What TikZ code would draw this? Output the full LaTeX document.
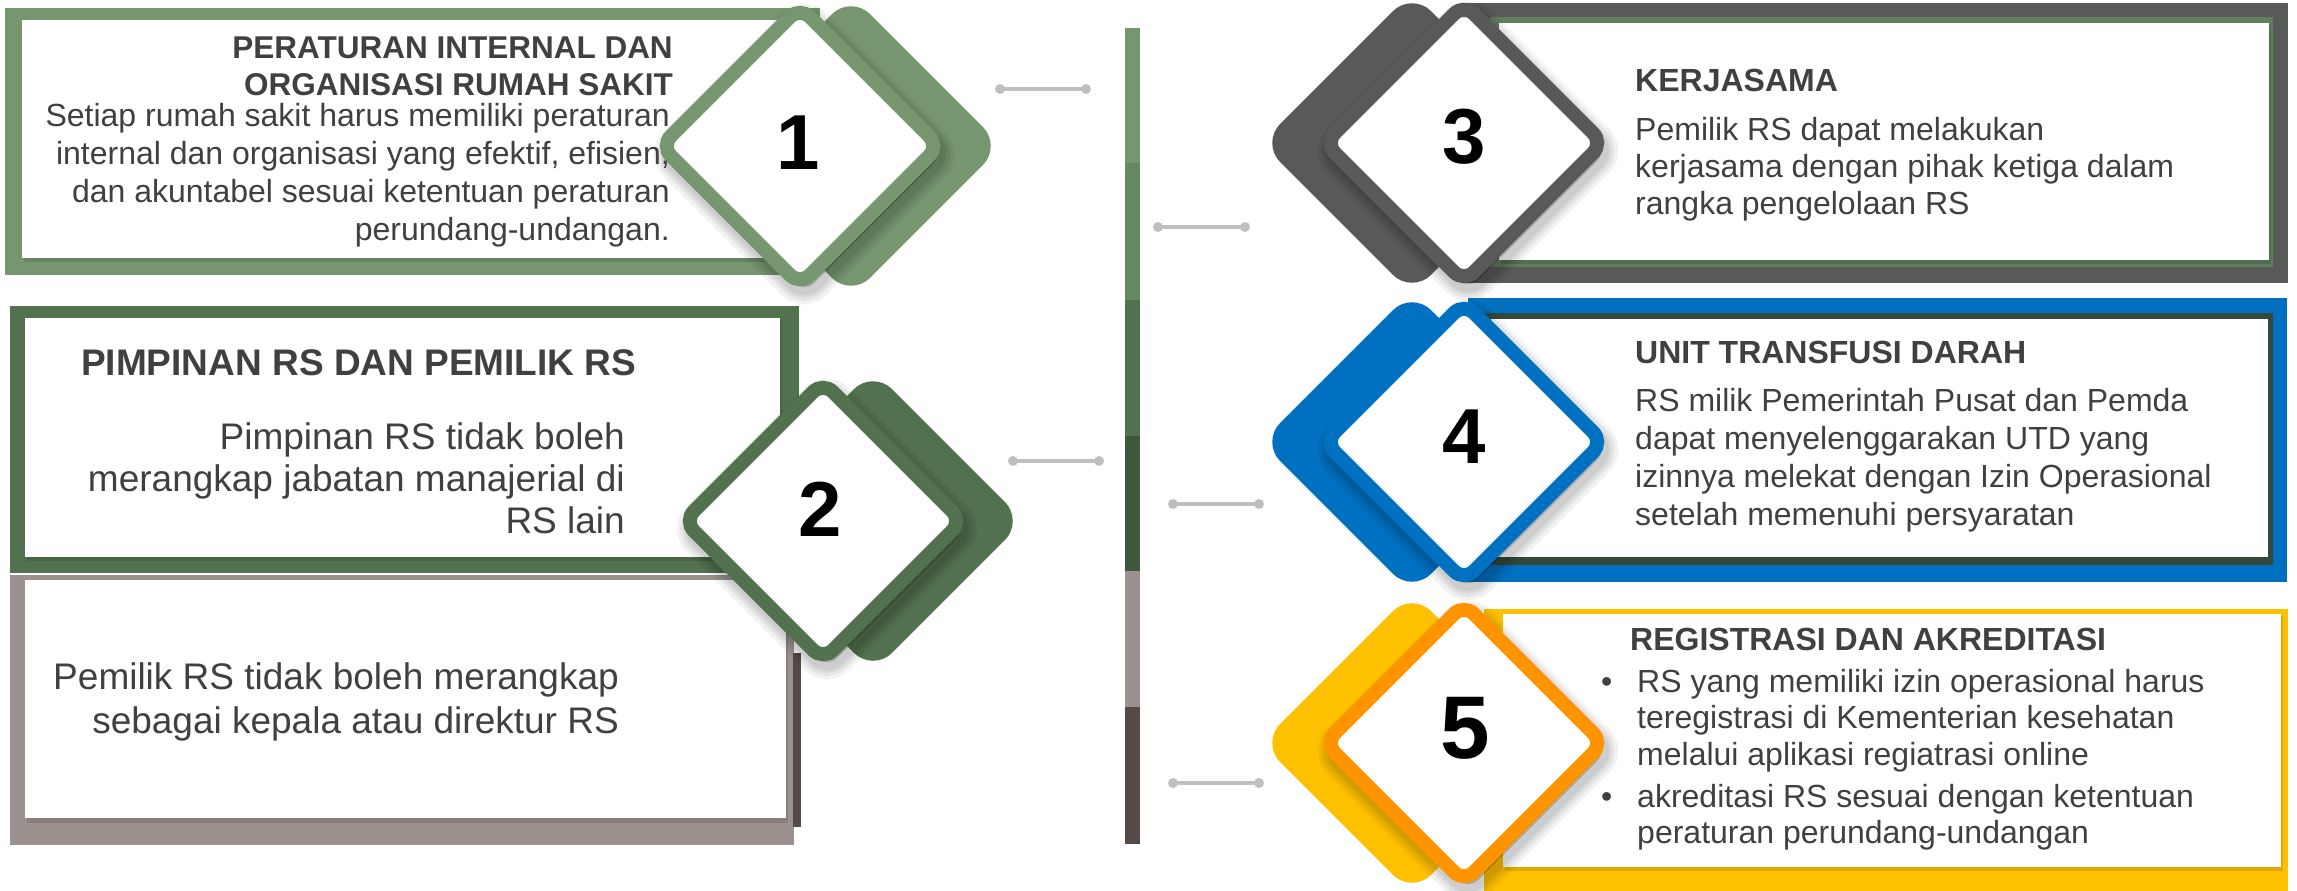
\documentclass[tikz,border=0pt]{standalone}
\usepackage{fontspec}
\setmainfont{Liberation Sans}
\definecolor{gA}{HTML}{76966F}
\definecolor{gB}{HTML}{52714F}
\definecolor{gC}{HTML}{658863}
\definecolor{gD}{HTML}{3E573D}
\definecolor{brL}{HTML}{9B9290}
\definecolor{brD}{HTML}{554A45}
\definecolor{grayD}{HTML}{595959}
\definecolor{frG}{HTML}{5E7E5C}
\definecolor{frD}{HTML}{35493A}
\definecolor{blueA}{HTML}{0070C0}
\definecolor{orA}{HTML}{FF9300}
\definecolor{yeA}{HTML}{FFC000}
\definecolor{txt}{HTML}{404040}
\definecolor{conn}{HTML}{BFBFBF}
\newcommand\rhombpath[2]{% #1 center coordinate name, #2 half diagonal
  ([shift={(-#2/2,-#2/2)}]#1) -- ([shift={(0,-#2)}]#1) -- ([shift={(#2,0)}]#1)
  -- ([shift={(0,#2)}]#1) -- ([shift={(-#2,0)}]#1) -- cycle}
\begin{document}
\begin{tikzpicture}[x=1pt,y=-1pt,
  diamain/.style={draw=#1, fill=white, line width=14pt, rounded corners=14pt},
  diashadow/.style={draw=#1, fill=#1, line width=14pt, rounded corners=20pt},
  softshade/.style={draw=black, fill=black, opacity=0.05, rounded corners=14pt},
  boxshade/.style={fill=black, opacity=0.12},
  num/.style={font=\fontsize{78}{80}\selectfont\bfseries, text=black, inner sep=0pt},
  ttl/.style={font=\fontsize{32}{38}\selectfont\bfseries, text=txt, inner sep=0pt},
  body/.style={text=txt, inner sep=0pt},
  dot/.style={circle, fill=conn, minimum size=10pt, inner sep=0pt},
  conline/.style={draw=conn, line width=4pt}
]
\useasboundingbox (0,0) rectangle (2297,891);
\fill[white] (0,0) rectangle (2297,891);

% ---- left boxes
\fill[gA] (5,8) rectangle (820,275);
\fill[boxshade] (24,22) rectangle (792,262);
\fill[white] (22,20) rectangle (790,258);
\fill[gB] (10,306) rectangle (799,573);
\fill[boxshade] (27,320) rectangle (782,561);
\fill[white] (25,318) rectangle (780,557);
\fill[brL] (10,575) rectangle (794,845);
\fill[boxshade] (27,582) rectangle (788,823);
\fill[white] (25,580) rectangle (786,818);
\fill[brD] (793,653) rectangle (801,827);

% ---- right boxes
\fill[grayD] (1460,3) rectangle (2288,283);
\fill[frG] (1490,17) rectangle (2273,267);
\fill[boxshade] (1501,25) rectangle (2271,264);
\fill[white] (1499,23) rectangle (2269,260);
\fill[blueA] (1468,298) rectangle (2287,582);
\fill[frD] (1480,313) rectangle (2273,565);
\fill[white] (1491,319) rectangle (2268,557);
\fill[yeA] (1484,609) rectangle (2288,891);
\fill[boxshade] (1505,616) rectangle (2283,871);
\fill[white] (1503,614) rectangle (2281,867);

% ---- central bar
\fill[gA] (1125,28) rectangle (1140,163);
\fill[gC] (1125,163) rectangle (1140,300);
\fill[gB] (1125,300) rectangle (1140,436);
\fill[gD] (1125,436) rectangle (1140,571);
\fill[brL] (1125,571) rectangle (1140,707);
\fill[brD] (1125,707) rectangle (1140,844);

% ---- connectors
\node[dot] (c1a) at (1000,89) {};
\node[dot] (c1b) at (1086,89) {};
\node[dot] (c2a) at (1013,461) {};
\node[dot] (c2b) at (1099,461) {};
\node[dot] (c3a) at (1158,227) {};
\node[dot] (c3b) at (1245,227) {};
\node[dot] (c4a) at (1173,504) {};
\node[dot] (c4b) at (1259,504) {};
\node[dot] (c5a) at (1173,783) {};
\node[dot] (c5b) at (1259,783) {};
\draw[conline] (c1a.center) -- (c1b.center);
\draw[conline] (c2a.center) -- (c2b.center);
\draw[conline] (c3a.center) -- (c3b.center);
\draw[conline] (c4a.center) -- (c4b.center);
\draw[conline] (c5a.center) -- (c5b.center);

% ---- diamond centres
\coordinate (s1) at (851,146);
\coordinate (s2) at (873,521);
\coordinate (s3) at (1412,143);
\coordinate (s4) at (1412,442);
\coordinate (s5) at (1412,743);
\coordinate (d1) at (800,146);
\coordinate (d2) at (823,521);
\coordinate (d3) at (1464,143);
\coordinate (d4) at (1464,442);
\coordinate (d5) at (1464,743);

% ---- shadow diamonds
\path[diashadow=gA] \rhombpath{s1}{141};
\path[diashadow=gB] \rhombpath{s2}{141};
\path[diashadow=grayD] \rhombpath{s3}{141};
\path[diashadow=blueA] \rhombpath{s4}{141};
\path[diashadow=yeA] \rhombpath{s5}{141};

% ---- soft shade under the main diamonds
\foreach \c in {d1,d2,d3,d4,d5}{
  \coordinate (\c h) at ([shift={(4,8)}]\c);
  \foreach \w in {34,27,21,16}{
    \path[softshade, line width=\w pt] \rhombpath{\c h}{139};
  }
}

% ---- main diamonds
\path[diamain=gA] \rhombpath{d1}{139};
\path[diamain=gB] \rhombpath{d2}{139};
\path[diamain=grayD] \rhombpath{d3}{139};
\path[diamain=blueA] \rhombpath{d4}{139};
\path[diamain=orA] \rhombpath{d5}{139};

% ---- numbers
\node[num] (n1) at (798,143) {1};
\node[num] (n2) at (820,509) {2};
\node[num] (n3) at (1464,137) {3};
\node[num] (n4) at (1464,437) {4};
\node[num, font=\fontsize{89}{90}\selectfont\bfseries] (n5) at (1465,728) {5};

% ---- texts left
\node[body, font=\fontsize{31.5}{37}\selectfont\bfseries, anchor=north east] (t1) at (673,32.1)
  {\begin{tabular}{@{}r@{}}PERATURAN INTERNAL DAN\\ ORGANISASI RUMAH SAKIT\end{tabular}};
\node[body, font=\fontsize{32}{38}\selectfont, anchor=north east] (b1) at (670,99.4)
  {\begin{tabular}{@{}r@{}}Setiap rumah sakit harus memiliki peraturan\\ internal dan organisasi yang efektif, efisien,\\ dan akuntabel sesuai ketentuan peraturan\\ perundang-undangan.\end{tabular}};
\node[body, font=\fontsize{37}{44}\selectfont\bfseries, anchor=base west] (t2) at (81,375)
  {PIMPINAN RS DAN PEMILIK RS};
\node[body, font=\fontsize{37}{42}\selectfont, anchor=north east] (b2) at (625,419.6)
  {\begin{tabular}{@{}r@{}}Pimpinan RS tidak boleh\\ merangkap jabatan manajerial di\\ RS lain\end{tabular}};
\node[body, font=\fontsize{37}{44}\selectfont, anchor=north east] (b2b) at (619,658.2)
  {\begin{tabular}{@{}r@{}}Pemilik RS tidak boleh merangkap\\ sebagai kepala atau direktur RS\end{tabular}};

% ---- texts right
\node[ttl, anchor=base west] (t3) at (1635,92) {KERJASAMA};
\node[body, font=\fontsize{32}{37}\selectfont, anchor=north west] (b3) at (1635,114.1)
  {\begin{tabular}{@{}l@{}}Pemilik RS dapat melakukan\\ kerjasama dengan pihak ketiga dalam\\ rangka pengelolaan RS\end{tabular}};
\node[ttl, anchor=base west] (t4) at (1635,363) {UNIT TRANSFUSI DARAH};
\node[body, font=\fontsize{32}{38}\selectfont, anchor=north west] (b4) at (1635,384.4)
  {\begin{tabular}{@{}l@{}}RS milik Pemerintah Pusat dan Pemda\\ dapat menyelenggarakan UTD yang\\ izinnya melekat dengan Izin Operasional\\ setelah memenuhi persyaratan\end{tabular}};
\node[ttl, anchor=base west] (t5) at (1630,650) {REGISTRASI DAN AKREDITASI};
\node[body, font=\fontsize{32}{36.5}\selectfont, anchor=north west] (b5) at (1601,666.5)
  {\begin{tabular}{@{}l@{\hspace{24.8pt}}l@{}}•&RS yang memiliki izin operasional harus\\ &teregistrasi di Kementerian kesehatan\\ &melalui aplikasi regiatrasi online\\[5.5pt] •&akreditasi RS sesuai dengan ketentuan\\ &peraturan perundang-undangan\end{tabular}};
\end{tikzpicture}
\end{document}
